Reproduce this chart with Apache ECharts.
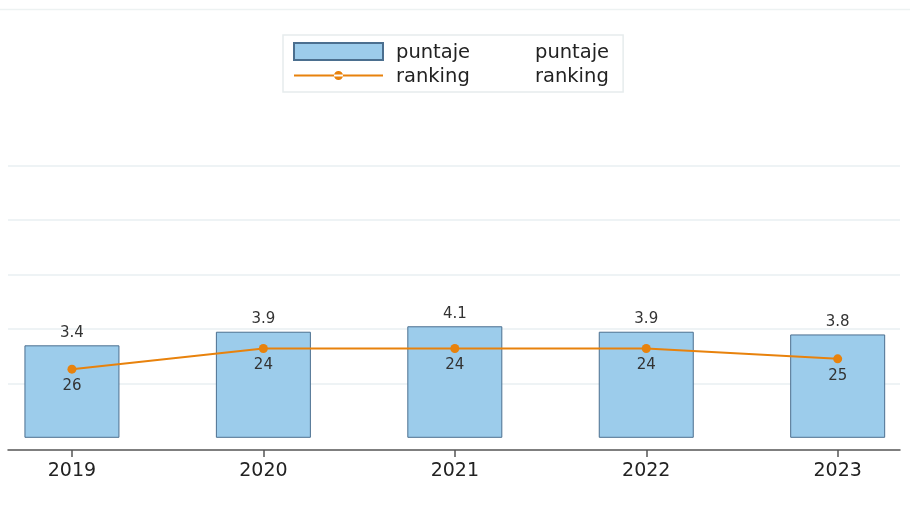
<!DOCTYPE html>
<html><head><meta charset="utf-8">
<script src="https://cdn.jsdelivr.net/npm/echarts@6/dist/echarts.min.js"></script>
<style>html,body{margin:0;padding:0;background:#fff}#c{width:910px;height:512px}</style>
</head><body><div id="c"></div>
<script>
const years = [2019, 2020, 2021, 2022, 2023];
const puntaje = [3.4, 3.9, 4.1, 3.9, 3.8];
const ranking = [26, 24, 24, 24, 25];
const seriesNames = ['puntaje', 'ranking'];

const FONT = 'DejaVu Sans';
const gc = '#e9eff2';
const tr = 'rgba(0,0,0,0)';
const orange = '#e8820c';
const chart = echarts.init(document.getElementById('c'), null, {renderer: 'canvas'});
const option = {
  animation: false,
  backgroundColor: '#fff',
  textStyle: {fontFamily: FONT},
  graphic: [{type: 'line', shape: {x1: 0, y1: 9.5, x2: 910, y2: 9.5}, style: {stroke: '#edf2f2', lineWidth: 1.5}, silent: true}],
  legend: {
    left: 283, top: 35, orient: 'vertical',
    padding: [7, 14, 5, 10], itemWidth: 89, itemHeight: 17, itemGap: 3,
    borderColor: '#e6eced', borderWidth: 1.5, borderRadius: 0,
    symbolKeepAspect: true,
    data: [
      {name: seriesNames[0], icon: 'rect'},
      {name: seriesNames[1], icon: 'path://M0,3.5L89,3.5L89,5.5L0,5.5Z M40,4.5A4.5,4.5 0 1,0 49,4.5A4.5,4.5 0 1,0 40,4.5Z'}
    ],
    formatter: n => '{s| }{a|' + n + '}{b|' + n + '}',
    textStyle: {
      rich: {
        s: {width: 8, fontSize: 19, fontFamily: FONT},
        a: {width: 139, fontSize: 19.5, color: '#222', fontFamily: FONT, padding: [3, 0, 0, 0]},
        b: {width: 76, fontSize: 19.5, color: '#222', fontFamily: FONT, padding: [3, 0, 0, 0]}
      }
    }
  },
  grid: {left: 8, right: 10, top: 111.4, bottom: 74.2, containLabel: false},
  xAxis: {
    type: 'value', min: 2018.666, max: 2023.3255, offset: 12.2, z: 10,
    axisLine: {show: true, onZero: false, lineStyle: {color: '#555', width: 1.5}},
    axisTick: {show: true, inside: false, length: 7, lineStyle: {color: '#555', width: 1.5}, customValues: years},
    axisLabel: {customValues: years, formatter: v => String(v), fontSize: 19, color: '#222', margin: 12, fontFamily: FONT},
    splitLine: {show: false}
  },
  yAxis: [
    {
      type: 'value', min: 0, max: 12, interval: 2,
      axisLine: {show: false}, axisTick: {show: false}, axisLabel: {show: false},
      splitLine: {show: true, lineStyle: {color: [tr, gc, gc, gc, gc, gc, tr], width: 1.5}}
    },
    {type: 'value', inverse: true, min: 1, max: 32.66, show: false, splitLine: {show: false}}
  ],
  series: [
    {
      type: 'bar', name: seriesNames[0],
      data: years.map((y, i) => [y, puntaje[i]]),
      barWidth: 95,
      itemStyle: {color: '#9ccceb', borderColor: '#4b6f8f', borderWidth: 1},
      label: {show: true, position: 'top', distance: 5, formatter: p => puntaje[p.dataIndex].toFixed(1), fontSize: 15, color: '#333', fontFamily: FONT}
    },
    {
      type: 'line', name: seriesNames[1], yAxisIndex: 1,
      data: years.map((y, i) => [y, ranking[i]]),
      symbol: 'circle', symbolSize: 9,
      lineStyle: {color: orange, width: 2},
      itemStyle: {color: orange, borderColor: orange, borderWidth: 0},
      label: {show: true, position: 'bottom', distance: 5, formatter: p => String(ranking[p.dataIndex]), fontSize: 15, color: '#333', fontFamily: FONT},
      z: 3
    }
  ]
};
chart.setOption(option);
</script>
</body></html>
